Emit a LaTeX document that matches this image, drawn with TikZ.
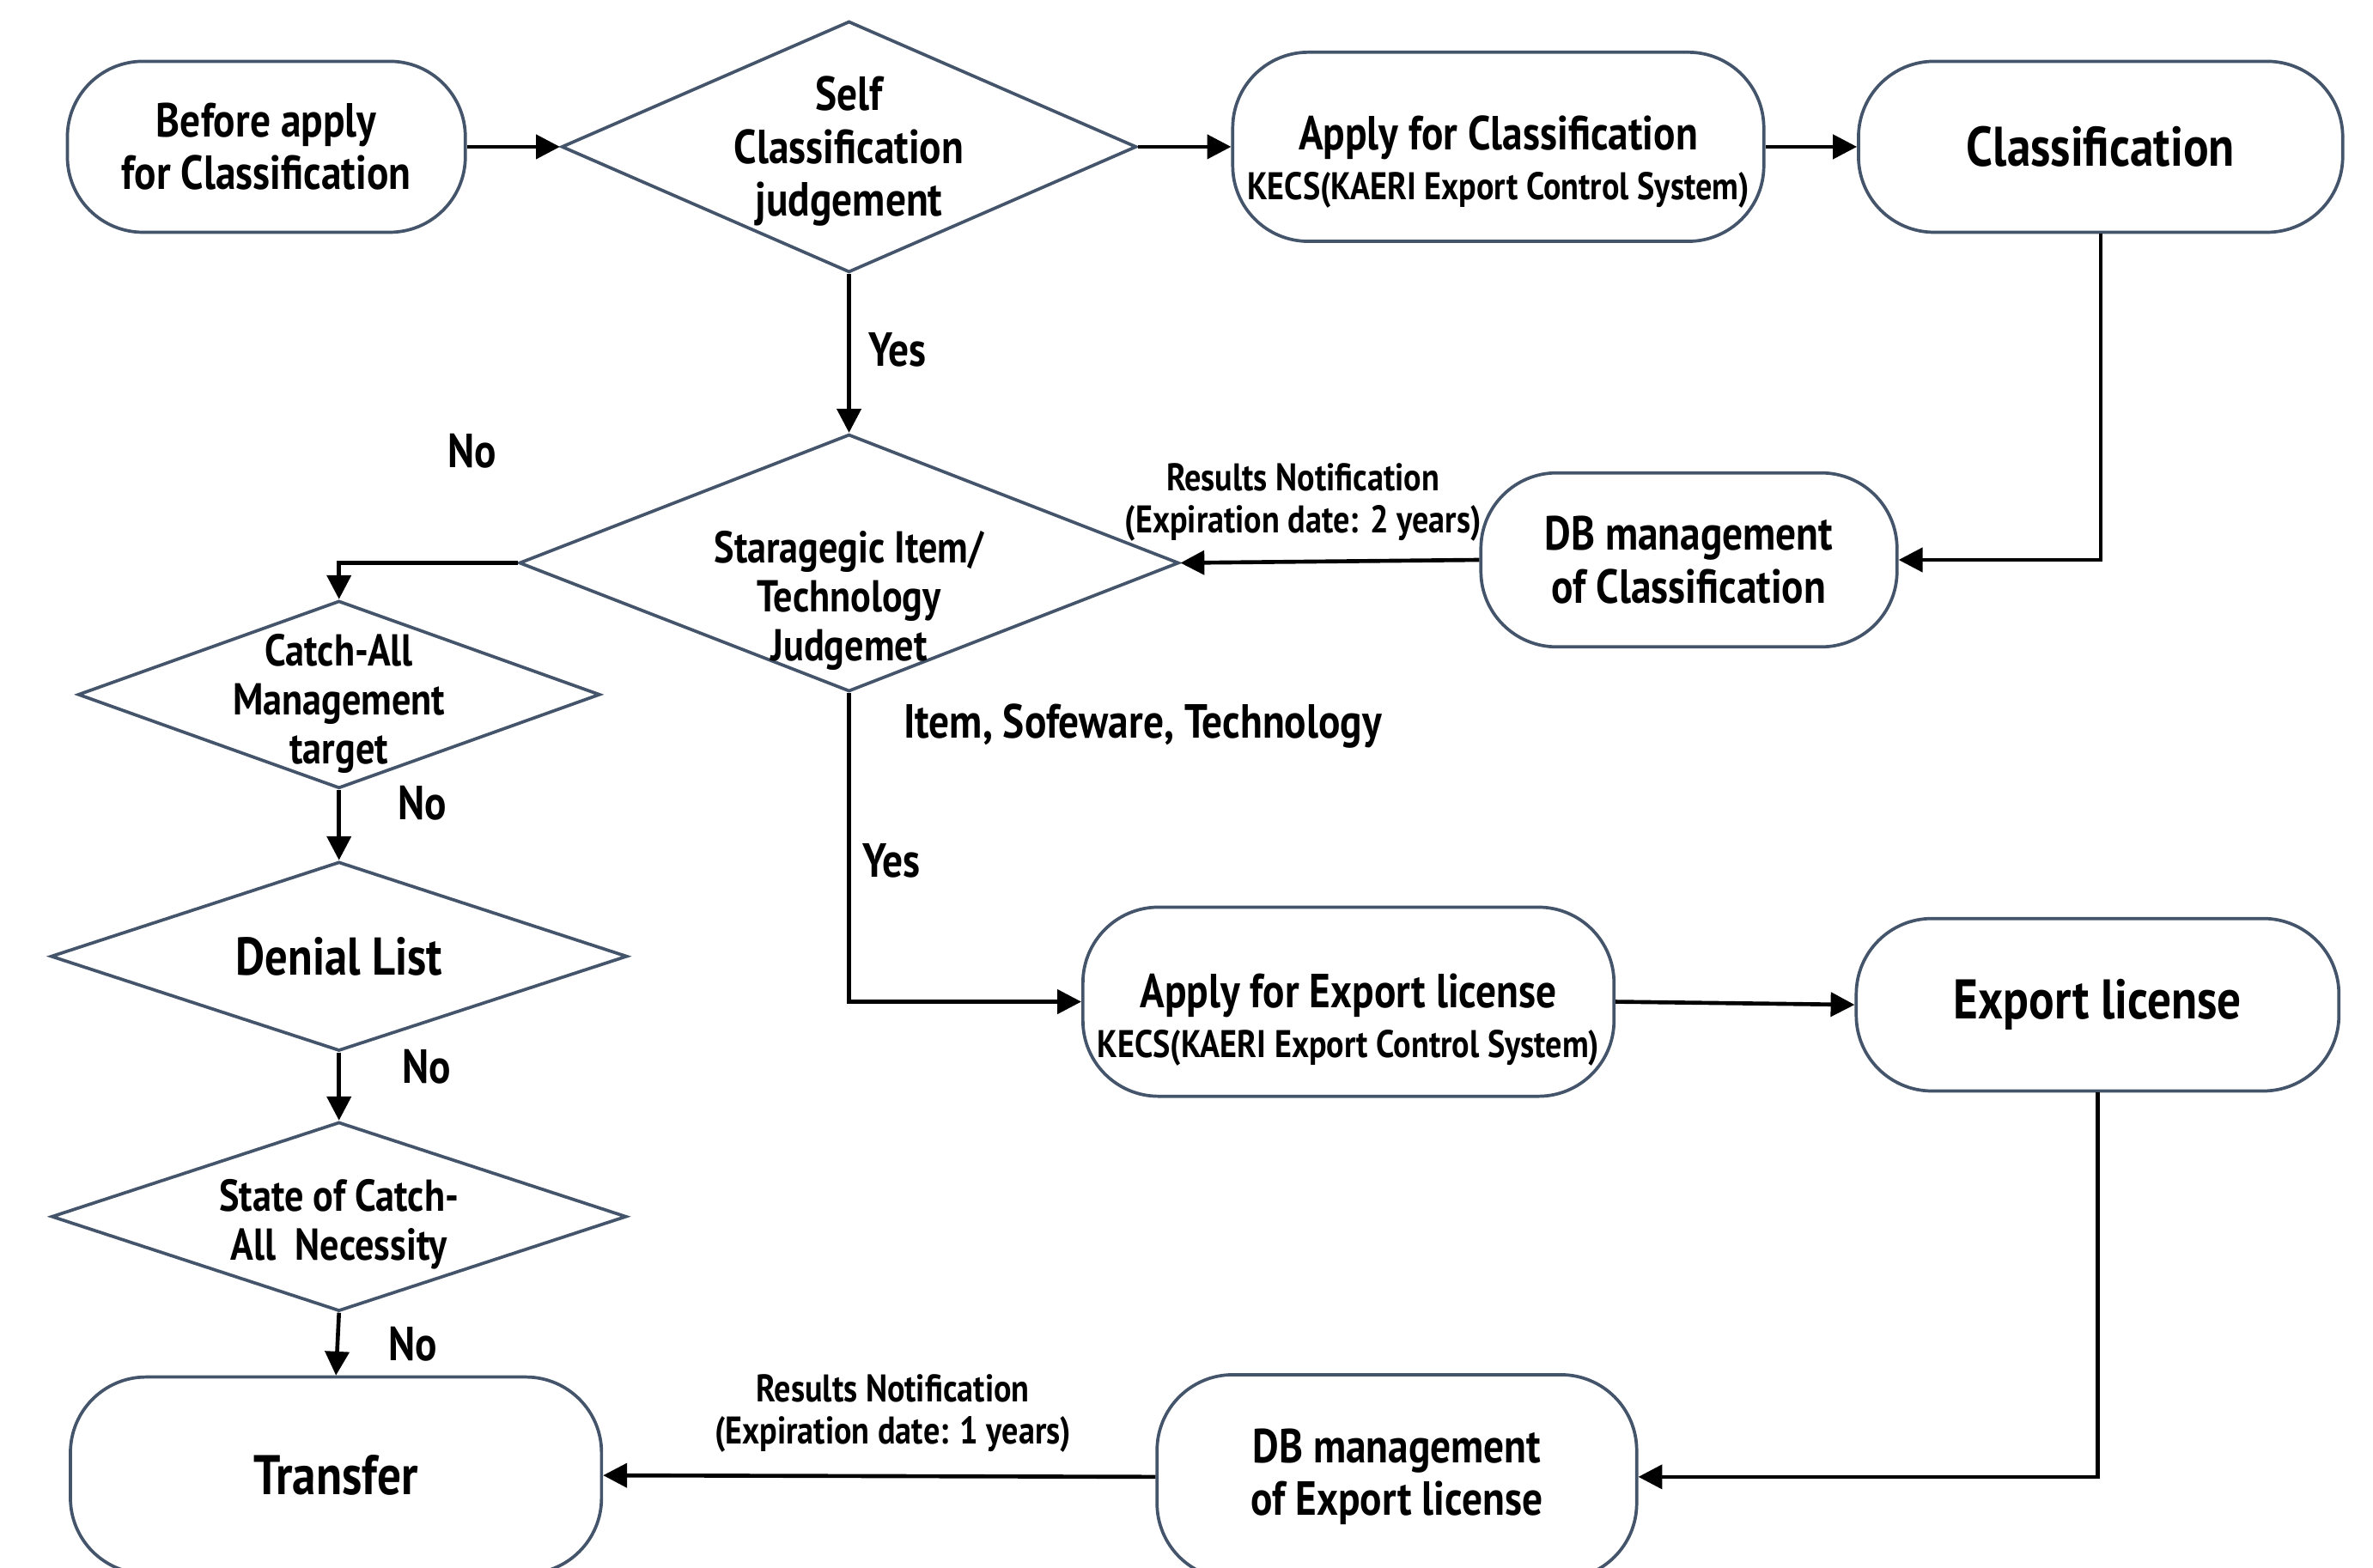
\documentclass[tikz,border=0pt]{standalone}
\usepackage{fontspec}
\setmainfont{PT Sans}[FakeStretch=0.85]
\usetikzlibrary{shapes.geometric, arrows.meta}
\definecolor{edgegray}{HTML}{44546A}
\newcommand{\fs}[1]{\fontsize{#1}{\the\dimexpr #1pt*11/10\relax}\selectfont}
\tikzset{>={Triangle[length=9pt,width=9pt]},
term/.style={draw=edgegray, line width=1.2pt, rounded corners=1cm, align=center, inner sep=0pt},
decision/.style={diamond, draw=edgegray, line width=1.2pt, inner sep=0pt},
dtext/.style={align=center, font=\bfseries\fs{16.8}},
flow/.style={->, line width=1.5pt},
tag/.style={align=center, font=\bfseries\fs{18}},
}

\begin{document}
\begin{tikzpicture}[x=0.02cm, y=-0.02cm]
    \clip (0,0) rectangle (1568,1036);
    \node[term, minimum width=5.26cm, minimum height=2.26cm, font=\bfseries\fs{18}] (before) at (176,97) {Before apply\\for Classification};
    \node[decision, minimum width=7.6cm, minimum height=3.32cm,
        label={[dtext, font=\bfseries\fs{18}, yshift=-0.06cm]center:Self\\Classification\\judgement}] (self) at (561,97) {};
    \node[term, minimum width=7.02cm, minimum height=2.5cm,
        label={[dtext, font=\bfseries\fs{18}, yshift=-0.2cm]center:Apply for Classification\\[-1pt]{\fs{14.5}KECS(KAERI Export Control System)}}] (applycls) at (990,97) {};
    \node[term, minimum width=6.4cm, minimum height=2.26cm, font=\bfseries\fs{21}] (cls) at (1388,97) {Classification};
    \node[decision, minimum width=8.72cm, minimum height=3.4cm,
        label={[dtext, yshift=-0.5cm]center:Staragegic Item/\\Technology\\Judgemet}] (strat) at (561,372) {};
    \node[term, minimum width=5.5cm, minimum height=2.3cm, font=\bfseries\fs{18}] (dbcls) at (1116,370) {DB management\\of Classification};
    \node[decision, minimum width=6.9cm, minimum height=2.48cm,
        label={[dtext, yshift=-0.12cm]center:Catch-All\\Management\\target}] (catch) at (224,459) {};
    \node[decision, minimum width=7.62cm, minimum height=2.5cm,
        label={[dtext, font=\bfseries\fs{20}]center:Denial List}] (denial) at (224,632) {};
    \node[decision, minimum width=7.6cm, minimum height=2.5cm,
        label={[dtext, yshift=-0.1cm]center:State of Catch-\\All~~Necessity}] (state) at (224,804) {};
    \node[term, minimum width=7.02cm, minimum height=2.6cm, font=\bfseries\fs{21}] (transfer) at (222,975) {Transfer};
    \node[term, minimum width=7.02cm, minimum height=2.5cm,
        label={[dtext, font=\bfseries\fs{18}, yshift=-0.24cm]center:Apply for Export license\\[-1pt]{\fs{14.5}KECS(KAERI Export Control System)}}] (applyexp) at (891,662) {};
    \node[term, minimum width=6.38cm, minimum height=2.28cm, font=\bfseries\fs{21}] (exp) at (1386,664) {Export license};
    \node[term, minimum width=6.34cm, minimum height=2.7cm, font=\bfseries\fs{18}] (dbexp) at (923,976) {DB management\\of Export license};

    \node[tag] (yes1) at (593,231) {Yes};
    \node[tag] (no1) at (312,298) {No};
    \node[tag, font=\bfseries\fs{14.5}] (note1) at (861,332) {Results Notification\\(Expiration date: 2 years)};
    \node[tag] (kinds) at (755,480) {Item, Sofeware, Technology};
    \node[tag] (yes2) at (589,569) {Yes};
    \node[tag] (no2) at (279,531) {No};
    \node[tag] (no3) at (282,705) {No};
    \node[tag] (no4) at (273,888) {No};
    \node[tag, font=\bfseries\fs{14.5}] (note2) at (590,934) {Results Notification\\(Expiration date: 1 years)};

    \draw[flow] (before.east) -- (self.west);
    \draw[flow] (self.east) -- (applycls.west);
    \draw[flow] (applycls.east) -- (cls.west);
    \draw[flow] (self.south) -- (strat.north);
    \draw[flow] (cls.south) |- (dbcls.east);
    \draw[flow] (dbcls.west) -- (strat.east);
    \draw[flow] (strat.west) -| (catch.north);
    \draw[flow] (catch.south) -- (denial.north);
    \draw[flow] (denial.south) -- (state.north);
    \draw[flow] (state.south) -- (transfer.north);
    \draw[flow] (strat.south) |- (applyexp.west);
    \draw[flow] (applyexp.east) -- (exp.west);
    \draw[flow] (exp.south) |- (dbexp.east);
    \draw[flow] (dbexp.west) -- (transfer.east);
\end{tikzpicture}
\end{document}
